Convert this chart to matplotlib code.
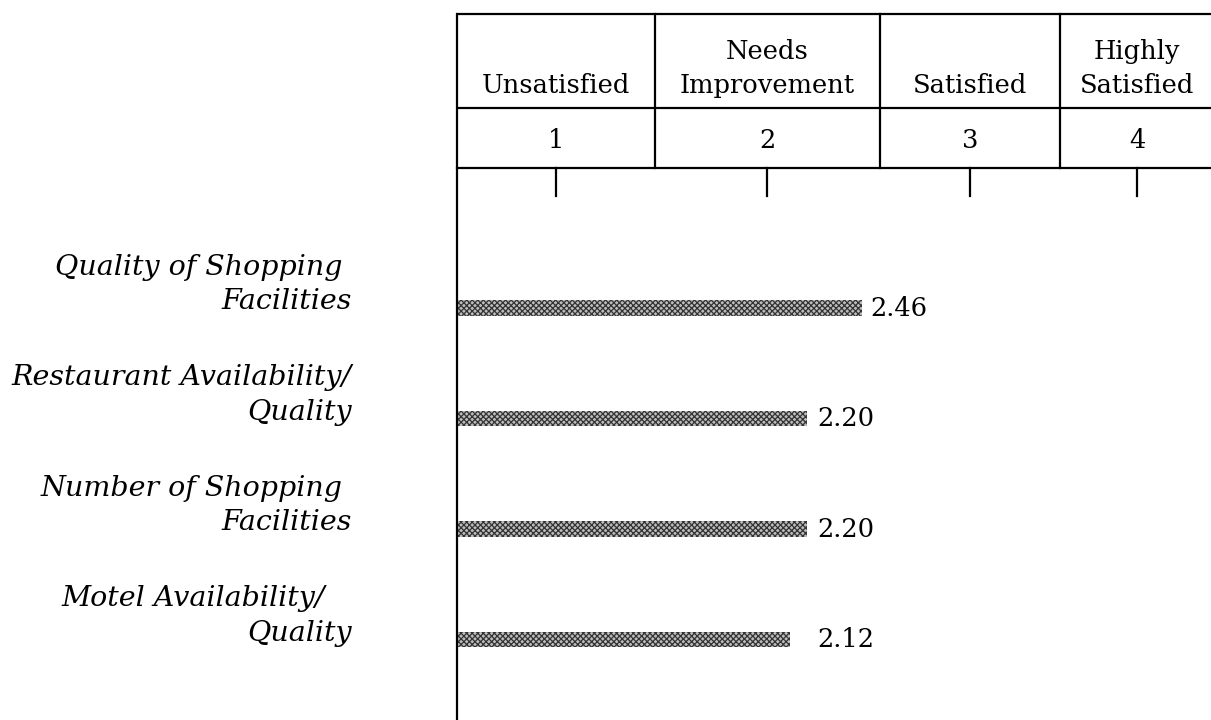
import numpy as np
from matplotlib import pyplot as plt

# survey items and mean ratings (1 = unsatisfied ... 4 = highly satisfied)
items = [
    "Quality of Shopping \nFacilities",
    "Restaurant Availability/\nQuality",
    "Number of Shopping \nFacilities",
    "Motel Availability/   \nQuality",
]
scores = [2.46, 2.20, 2.20, 2.12]

rating_names = ["Unsatisfied", "Needs\nImprovement", "Satisfied", "Highly\nSatisfied"]
rating_nums = ["1", "2", "3", "4"]

W, H = 1211, 720
plt.rcParams['font.family'] = 'DejaVu Serif'
plt.rcParams['hatch.linewidth'] = 0.9

fig = plt.figure(figsize=(W / 100, H / 100), dpi=100)

# bar area, below the header
x_left = 457
y_top, y_mid, y_bot = 14, 108, 168
lw = 1.6

ax = fig.add_axes([x_left / W, 0, (W - x_left) / W, (H - y_bot) / H])
ax.set_facecolor('none')
px_per_unit = 210
x0 = 1 - (555 - x_left) / px_per_unit
ax.set_xlim(x0, x0 + (W - x_left) / px_per_unit)
ax.set_ylim(3.73, -1.27)

ypos = np.arange(len(items))
vals = np.array(scores)
ax.barh(ypos, vals - x0, left=x0, height=0.14, facecolor='#bdbdbd',
        edgecolor='#333333', hatch='xxxxxx', linewidth=0)

for y, v in zip(ypos, scores):
    lx = max(v + 0.04, 2.25)
    ax.text(lx, y, f"{v:.2f}", ha='left', va='center', fontsize=18.5)

for y, name in zip(ypos, items):
    ax.annotate(name, xy=(0, y), xycoords=('axes fraction', 'data'),
                xytext=(-76, 17), textcoords='offset points',
                ha='right', va='center', multialignment='right',
                fontsize=20.5, style='italic', linespacing=1.37)

for side in ('top', 'right', 'bottom'):
    ax.spines[side].set_visible(False)
ax.spines['left'].set_linewidth(lw)
ax.set_xticks([])
ax.set_yticks([])

# header grid drawn in pixel coordinates
hdr = fig.add_axes([0, 0, 1, 1])
hdr.set_facecolor('none')
hdr.set_xlim(0, W)
hdr.set_ylim(H, 0)
hdr.axis('off')

col_edges = [x_left, 655, 880, 1060]
col_centers = [556, 767, 970, 1137]
for yy in (y_top, y_mid, y_bot):
    hdr.plot([x_left, W], [yy, yy], color='black', lw=lw, solid_capstyle='butt')
for xx in col_edges:
    hdr.plot([xx, xx], [y_top, y_bot], color='black', lw=lw)

for cx, name, num in zip(col_centers, rating_names, rating_nums):
    hdr.text(cx, 93, name, ha='center', va='baseline', fontsize=18.5,
             linespacing=1.45)
    hdr.text(cx, 140, num, ha='center', va='center', fontsize=18.5)
    # tick mark under each rating column
    hdr.plot([cx, cx], [y_bot, y_bot + 28], color='black', lw=lw)

fig.savefig('out.png', dpi=100)
